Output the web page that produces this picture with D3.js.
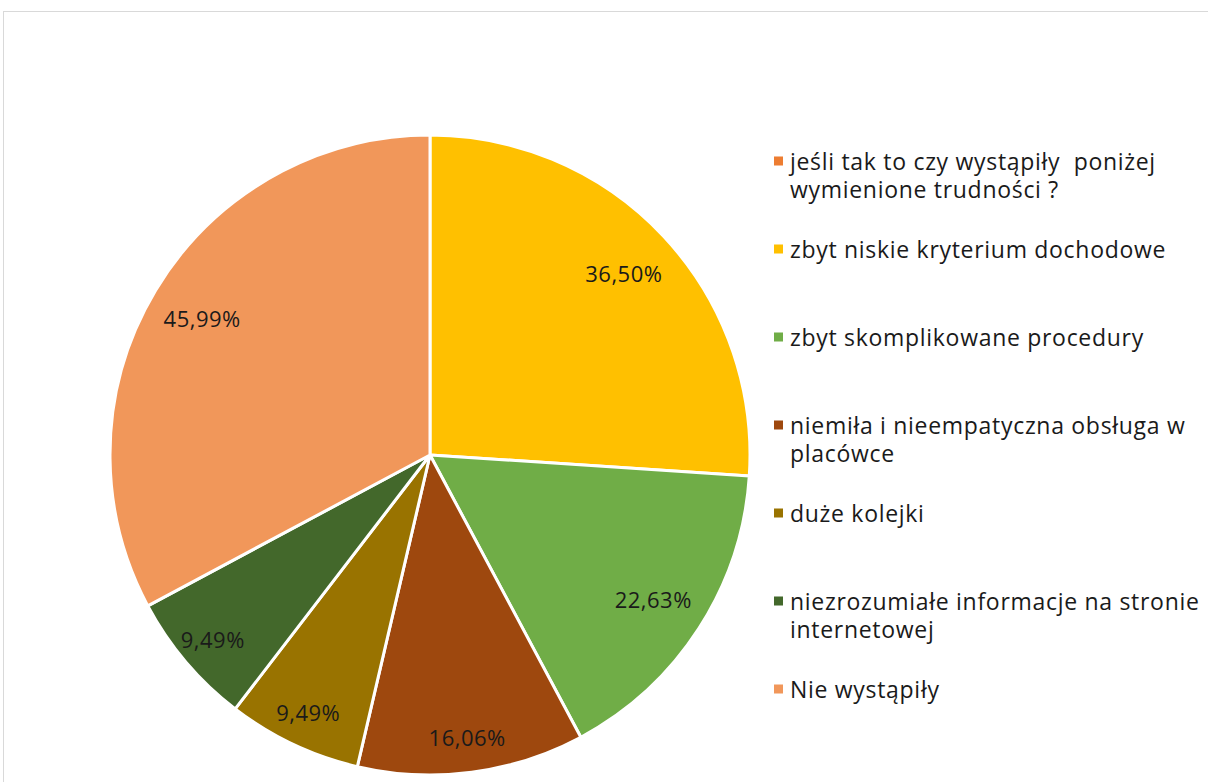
<!DOCTYPE html>
<html>
<head>
<meta charset="utf-8">
<script src="https://cdn.jsdelivr.net/npm/d3@7"></script>
<style>
  html, body { margin: 0; padding: 0; background: #fff; overflow: hidden; }
  svg { display: block; }
  text { font-family: "Open Sans", "Lato", sans-serif; fill: #1a1a1a; }
</style>
</head>
<body>
<svg id="chart"></svg>
<script>
// Categories (legend order) and their values in percent
const categories = [
    ["jeśli tak to czy wystąpiły  poniżej", "wymienione trudności ?"],
    ["zbyt niskie kryterium dochodowe"],
    ["zbyt skomplikowane procedury"],
    ["niemiła i nieempatyczna obsługa w", "placówce"],
    ["duże kolejki"],
    ["niezrozumiałe informacje na stronie", "internetowej"],
    ["Nie wystąpiły"]
];
const values = [0, 36.50, 22.63, 16.06, 9.49, 9.49, 45.99];
const colors = ["#ED7D31", "#FFC000", "#70AD47", "#9E480E", "#997300", "#43682B", "#F1975A"];

const width = 1208;
const height = 782;

const svg = d3.select("#chart")
    .attr("width", width)
    .attr("height", height);

// Chart area border
svg.append("rect")
    .attr("x", 3.5)
    .attr("y", 11.5)
    .attr("width", width + 10)
    .attr("height", height + 10)
    .attr("fill", "none")
    .attr("stroke", "#d9d9d9")
    .attr("stroke-width", 1);

const cx = 430, cy = 455, radius = 320;

const rows = categories.map((c, i) => ({ lines: c, value: values[i], color: colors[i] }));

const pie = d3.pie()
    .sort(null)
    .value(d => d.value);

const arc = d3.arc()
    .innerRadius(0)
    .outerRadius(radius);

const arcs = pie(rows).filter(d => d.data.value > 0);
const total = d3.sum(values);

const g = svg.append("g")
    .attr("transform", `translate(${cx},${cy})`);

g.selectAll("path")
    .data(arcs)
    .enter().append("path")
    .attr("d", arc)
    .attr("fill", d => d.data.color)
    .attr("stroke", "#fff")
    .attr("stroke-width", 3)
    .attr("stroke-linejoin", "round");

// Data labels, small slices sit nearer the rim
const fmt = v => d3.format(".2f")(v).replace(".", ",") + "%";

g.selectAll("text.label")
    .data(arcs)
    .enter().append("text")
    .attr("class", "label")
    .attr("transform", d => {
        const a = (d.startAngle + d.endAngle) / 2;
        const r = radius * (d.data.value / total < 0.13 ? 0.89 : 0.83);
        return `translate(${Math.sin(a) * r},${-Math.cos(a) * r})`;
    })
    .attr("text-anchor", "middle")
    .attr("dominant-baseline", "central")
    .style("font-size", "22px")
    .style("letter-spacing", "0.5px")
    .text(d => fmt(d.data.value));

// Legend
const legend = svg.append("g")
    .attr("transform", "translate(774,161)");

const item = legend.selectAll("g")
    .data(rows)
    .enter().append("g")
    .attr("transform", (d, i) => `translate(0,${i * 88})`);

item.append("rect")
    .attr("x", 0)
    .attr("y", -4.5)
    .attr("width", 9)
    .attr("height", 9)
    .attr("fill", d => d.color);

item.each(function(d) {
    const t = d3.select(this).append("text")
        .attr("x", 16)
        .attr("dominant-baseline", "central")
        .style("font-size", "23px")
        .style("letter-spacing", "0.7px")
        .style("white-space", "pre");
    d.lines.forEach((line, k) => {
        t.append("tspan")
            .attr("x", 16)
            .attr("y", k * 28)
            .text(line);
    });
});
</script>
</body>
</html>
